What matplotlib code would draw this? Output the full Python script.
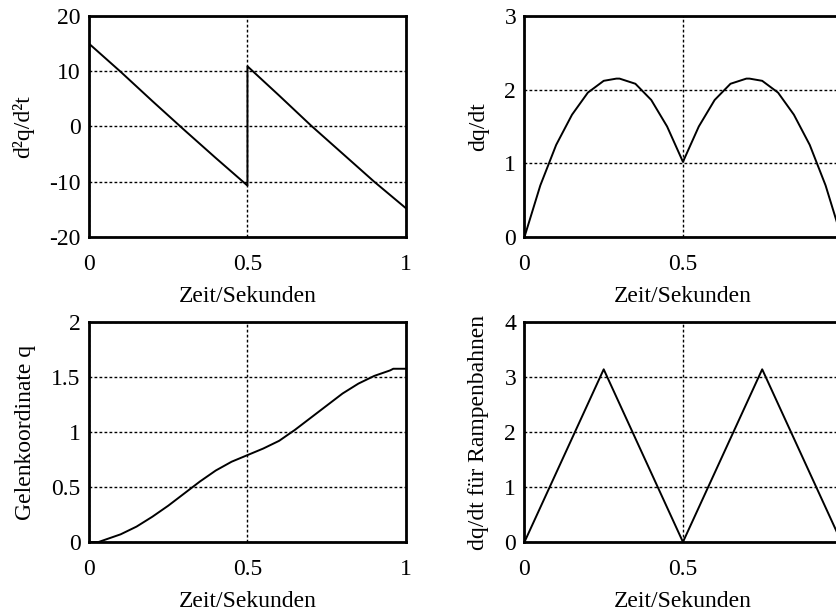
import matplotlib
matplotlib.use("Agg")
import matplotlib.pyplot as plt

plt.rcParams['font.family'] = ['Liberation Serif', 'DejaVu Serif']

# --- data ---
t_acc = [0.0, 0.1, 0.2, 0.3, 0.4, 0.5, 0.5, 0.6, 0.7, 0.8, 0.9, 1.0]
acc = [15.0, 9.9, 4.6, -0.6, -5.7, -10.7, 10.9, 5.6, 0.2, -4.9, -10.0, -14.8]

t_vel = [0.0, 0.05, 0.1, 0.15, 0.2, 0.25, 0.29, 0.3, 0.35, 0.4, 0.45, 0.5,
         0.55, 0.6, 0.65, 0.7, 0.71, 0.75, 0.8, 0.85, 0.9, 0.95, 1.0]
vel = [0.0, 0.7, 1.25, 1.66, 1.96, 2.12, 2.15, 2.15, 2.08, 1.86, 1.5, 1.02,
       1.5, 1.86, 2.08, 2.15, 2.15, 2.12, 1.96, 1.66, 1.25, 0.7, 0.0]

t_pos = [0.0, 0.03, 0.05, 0.1, 0.15, 0.2, 0.25, 0.3, 0.35, 0.4, 0.45, 0.5,
         0.55, 0.6, 0.65, 0.7, 0.75, 0.8, 0.85, 0.9, 0.95, 0.96, 1.0]
pos = [0.0, 0.0, 0.02, 0.07, 0.14, 0.23, 0.33, 0.44, 0.55, 0.65, 0.73, 0.79,
       0.85, 0.92, 1.02, 1.13, 1.24, 1.35, 1.44, 1.51, 1.56, 1.575, 1.575]

t_ramp = [0.0, 0.25, 0.5, 0.75, 1.0]
ramp = [0.0, 3.14, 0.0, 3.14, 0.0]

xlabel = "Zeit/Sekunden"
xticks = [0, 0.5, 1]
xticklabels = ["0", "0.5", "1"]
# right column is cropped at the image edge, its "1" is not visible
xticklabels_right = ["0", "0.5", ""]

panels = [
    # x, y, ylabel, ylim, yticks, yticklabels, xticklabels, position
    (t_acc, acc, "d\u00b2q/d\u00b2t", (-20, 20), [-20, -10, 0, 10, 20],
     ["-20", "-10", "0", "10", "20"], xticklabels,
     [0.1063, 0.6134, 0.3787, 0.3605]),
    (t_vel, vel, "dq/dt", (0, 3), [0, 1, 2, 3],
     ["0", "1", "2", "3"], xticklabels_right,
     [0.6266, 0.6134, 0.3787, 0.3605]),
    (t_pos, pos, "Gelenkoordinate q", (0, 2), [0, 0.5, 1, 1.5, 2],
     ["0", "0.5", "1", "1.5", "2"], xticklabels,
     [0.1063, 0.1158, 0.3787, 0.3589]),
    (t_ramp, ramp, "dq/dt f\u00fcr Rampenbahnen", (0, 4), [0, 1, 2, 3, 4],
     ["0", "1", "2", "3", "4"], xticklabels_right,
     [0.6266, 0.1158, 0.3787, 0.3589]),
]

fig = plt.figure(figsize=(8.37, 6.13), dpi=100)

for x, y, ylab, ylim, yt, ytl, xtl, rect in panels:
    ax = fig.add_axes(rect)
    ax.plot(x, y, color='black', linewidth=1.4)
    ax.set_xlim(0, 1)
    ax.set_ylim(*ylim)
    ax.set_xticks(xticks)
    ax.set_xticklabels(xtl)
    ax.set_yticks(yt)
    ax.set_yticklabels(ytl)
    ax.grid(True, color='black', linestyle=(0, (2, 1.6)), linewidth=1.0)
    ax.tick_params(length=0, labelsize=17)
    ax.tick_params(axis='x', pad=12)
    ax.tick_params(axis='y', pad=6)
    for sp in ax.spines.values():
        sp.set_linewidth(2.0)
    ax.set_xlabel(xlabel, fontsize=17, labelpad=8)
    ax.set_ylabel(ylab, fontsize=17, labelpad=11)

fig.savefig("out.png", dpi=100, facecolor='white')
